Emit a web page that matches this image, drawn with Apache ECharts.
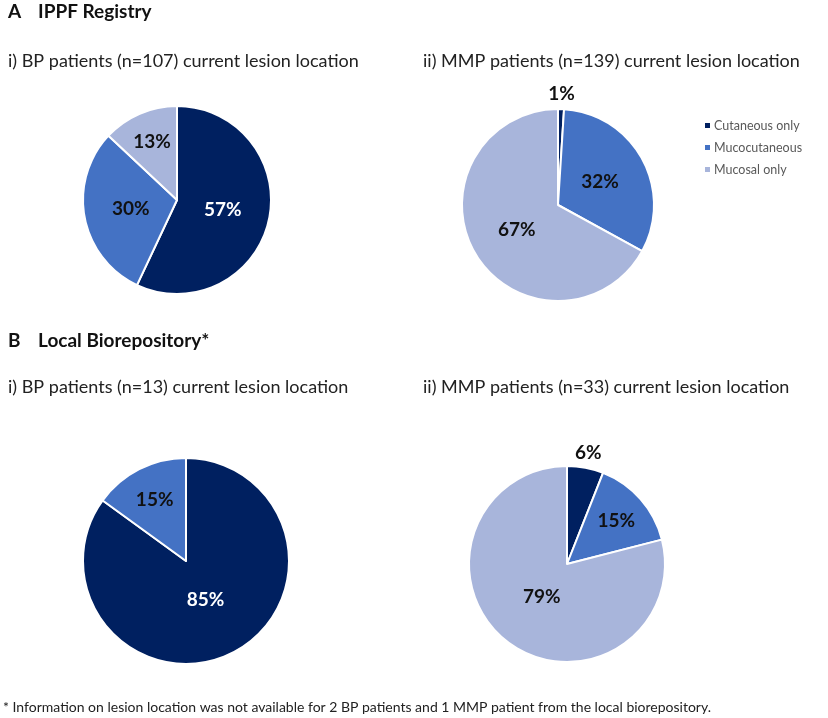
<!DOCTYPE html>
<html><head><meta charset="utf-8">
<script src="https://cdn.jsdelivr.net/npm/echarts@6/dist/echarts.min.js"></script>
<style>html,body{margin:0;padding:0;background:#fff}#c{width:828px;height:718px}</style>
</head><body><div id="c"></div>
<script>
const categories = ['Cutaneous only', 'Mucocutaneous', 'Mucosal only'];
const ippfBP = [57, 30, 13];
const ippfMMP = [1, 32, 67];
const localBP = [85, 15, 0];
const localMMP = [6, 15, 79];
const colors = ['#002060', '#4472C4', '#A8B5DB'];

const FONT = 'Lato';
const chart = echarts.init(document.getElementById('c'));

const pies = [
  { values: ippfBP, center: [177, 200], radius: 94 },
  { values: ippfMMP, center: [558, 205], radius: 96 },
  { values: localBP, center: [186, 561], radius: 103 },
  { values: localMMP, center: [567, 564], radius: 98 }
];

// radial placement of inside labels, similar to the spreadsheet's best-fit rule
function radialFactor(share) {
  if (share < 0.2) return 0.67;
  if (share > 0.75) return 0.42;
  return 0.5;
}

function pieSeries(p) {
  const values = p.values;
  return {
    type: 'pie',
    center: p.center,
    radius: p.radius,
    startAngle: 90,
    clockwise: true,
    avoidLabelOverlap: false,
    itemStyle: { borderColor: '#fff', borderWidth: 2 },
    label: {
      position: 'inside',
      formatter: '{c}%',
      fontFamily: FONT,
      fontWeight: 'bold',
      fontSize: 19,
      color: '#111'
    },
    labelLine: { show: false, length: 15, length2: 0 },
    labelLayout: function (params) {
      const s = pies[params.seriesIndex];
      const total = s.values.reduce((a, b) => a + b, 0);
      const share = s.values[params.dataIndex] / total;
      if (share < 0.1) return { align: 'center', verticalAlign: 'middle' };
      const r = params.labelRect;
      const lx = r.x + r.width / 2, ly = r.y + r.height / 2;
      const vx = lx - s.center[0], vy = ly - s.center[1];
      const d = Math.sqrt(vx * vx + vy * vy) || 1;
      const k = radialFactor(share) * s.radius / d;
      return { x: s.center[0] + vx * k, y: s.center[1] + vy * k, align: 'center', verticalAlign: 'middle' };
    },
    emphasis: { disabled: true },
    data: categories.map((name, i) => {
      const v = values[i];
      const small = v < 10;
      return {
        name: name,
        value: v,
        itemStyle: { color: colors[i], borderWidth: v === 0 ? 0 : 2 },
        label: {
          show: v > 0,
          position: small ? 'outside' : 'inside',
          distanceToLabelLine: 0,
          color: (i === 0 && !small) ? '#fff' : '#111'
        }
      };
    })
  };
}

const titleStyle = { fontFamily: FONT, fontSize: 19, fontWeight: 'bold', color: '#111', lineHeight: 19 };
const subStyle = { fontFamily: FONT, fontSize: 18, fontWeight: 'normal', color: '#222', lineHeight: 18 };

chart.setOption({
  animation: false,
  backgroundColor: '#fff',
  title: [
    { text: 'A', left: 8, top: 2, textStyle: titleStyle, padding: 0 },
    { text: 'IPPF Registry', left: 38, top: 2, textStyle: titleStyle, padding: 0 },
    { text: 'i) BP patients (n=107) current lesion location', left: 8, top: 52, textStyle: subStyle, padding: 0 },
    { text: 'ii) MMP patients (n=139) current lesion location', left: 423, top: 52, textStyle: subStyle, padding: 0 },
    { text: 'B', left: 8, top: 331, textStyle: titleStyle, padding: 0 },
    { text: 'Local Biorepository*', left: 38, top: 331, textStyle: titleStyle, padding: 0 },
    { text: 'i) BP patients (n=13) current lesion location', left: 8, top: 378, textStyle: subStyle, padding: 0 },
    { text: 'ii) MMP patients (n=33) current lesion location', left: 423, top: 378, textStyle: subStyle, padding: 0 },
    { text: '* Information on lesion location was not available for 2 BP patients and 1 MMP patient from the local biorepository.',
      left: 3, top: 700, padding: 0,
      textStyle: { fontFamily: FONT, fontSize: 14, fontWeight: 'normal', color: '#222', lineHeight: 14 } }
  ],
  legend: {
    orient: 'vertical',
    left: 698,
    top: 114,
    icon: 'rect',
    itemWidth: 7,
    itemHeight: 7,
    itemGap: 9,
    data: categories,
    selectedMode: false,
    textStyle: { fontFamily: FONT, fontSize: 12.5, color: '#595959', padding: [0, 0, 0, -2] }
  },
  series: pies.map(pieSeries)
});
</script>
</body></html>
